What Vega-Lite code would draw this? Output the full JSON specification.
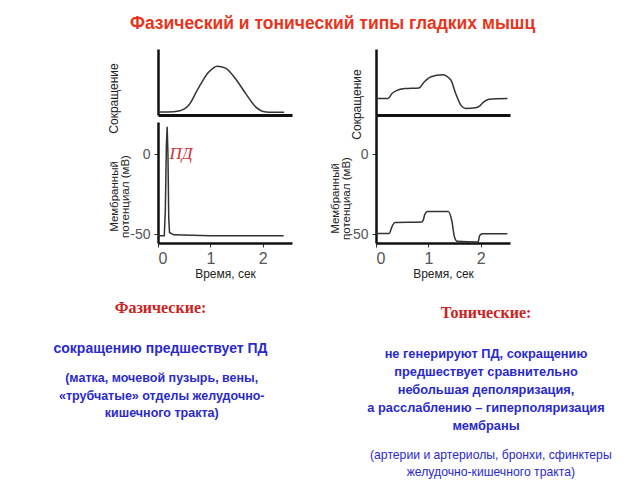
{
  "$schema": "https://vega.github.io/schema/vega-lite/v6.json",
  "padding": {"left": 53, "top": 15, "right": 5, "bottom": 2},
  "autosize": {"type": "pad"},
  "config": {
    "view": {"stroke": null},
    "font": "Liberation Sans",
    "axis": {"grid": false, "domainColor": "#111", "tickColor": "#333", "labelFont": "Liberation Sans", "titleFont": "Liberation Sans", "titleFontWeight": "normal", "titleColor": "#222", "labelColor": "#555"}
  },
  "title": {"text": "Фазический и тонический типы гладких мышц", "color": "#e8341c", "fontSize": 17.5, "font": "Liberation Sans", "fontWeight": "bold", "anchor": "middle", "offset": 16.5},
  "datasets": {
    "contrL": [
      {"t": 0, "v": 0.045}, {"t": 0.2, "v": 0.045}, {"t": 0.4, "v": 0.06}, {"t": 0.59, "v": 0.15},
      {"t": 0.78, "v": 0.42}, {"t": 0.97, "v": 0.65}, {"t": 1.13, "v": 0.74}, {"t": 1.29, "v": 0.71},
      {"t": 1.48, "v": 0.55}, {"t": 1.68, "v": 0.32}, {"t": 1.87, "v": 0.12}, {"t": 2.03, "v": 0.05},
      {"t": 2.2, "v": 0.04}, {"t": 2.41, "v": 0.04}
    ],
    "potL": [
      {"t": 0, "v": -51}, {"t": 0.12, "v": -51}, {"t": 0.14, "v": -35}, {"t": 0.16, "v": 5},
      {"t": 0.175, "v": 17}, {"t": 0.19, "v": 0}, {"t": 0.205, "v": -40}, {"t": 0.22, "v": -49},
      {"t": 0.3, "v": -50.5}, {"t": 1, "v": -51}, {"t": 2.4, "v": -51}
    ],
    "contrR": [
      {"t": 0, "v": 0.25}, {"t": 0.23, "v": 0.25}, {"t": 0.31, "v": 0.33}, {"t": 0.39, "v": 0.37},
      {"t": 0.55, "v": 0.40}, {"t": 0.82, "v": 0.41}, {"t": 0.92, "v": 0.50}, {"t": 1.05, "v": 0.58},
      {"t": 1.27, "v": 0.61}, {"t": 1.43, "v": 0.53}, {"t": 1.52, "v": 0.33}, {"t": 1.62, "v": 0.15},
      {"t": 1.71, "v": 0.10}, {"t": 1.9, "v": 0.11}, {"t": 1.97, "v": 0.13}, {"t": 2.06, "v": 0.20},
      {"t": 2.16, "v": 0.24}, {"t": 2.51, "v": 0.25}
    ],
    "potR": [
      {"t": 0, "v": -49.6}, {"t": 0.25, "v": -49.6}, {"t": 0.31, "v": -45}, {"t": 0.36, "v": -42.8},
      {"t": 0.87, "v": -42.5}, {"t": 0.9, "v": -41.5}, {"t": 0.93, "v": -38}, {"t": 0.98, "v": -35.9},
      {"t": 1.38, "v": -35.9}, {"t": 1.45, "v": -42}, {"t": 1.5, "v": -52}, {"t": 1.55, "v": -54.5},
      {"t": 1.95, "v": -55}, {"t": 1.98, "v": -51}, {"t": 2.03, "v": -49.8}, {"t": 2.51, "v": -49.8}
    ]
  },
  "spacing": 37,
  "hconcat": [
    {
      "spacing": 7,
      "bounds": "flush",
      "title": {"text": ["(матка, мочевой пузырь, вены,", "«трубчатые» отделы желудочно-", "кишечного тракта)"], "orient": "bottom", "anchor": "middle", "frame": "bounds", "font": "Liberation Sans", "fontSize": 12.5, "fontWeight": "bold", "color": "#2a2acc", "lineHeight": 17.5, "offset": 16, "dx": -11},
      "vconcat": [
        {
          "width": 134, "height": 66,
          "data": {"name": "contrL"},
          "mark": {"type": "line", "interpolate": "monotone", "color": "#333", "strokeWidth": 1.5},
          "encoding": {
            "x": {"field": "t", "type": "quantitative", "scale": {"domain": [0, 2.56], "nice": false}, "axis": {"title": null, "labels": false, "ticks": false, "domainWidth": 3}},
            "y": {"field": "v", "type": "quantitative", "scale": {"domain": [0, 1], "nice": false}, "axis": {"title": "Сокращение", "labels": false, "ticks": false, "domainWidth": 2.5, "titleX": -45, "titleY": 49, "titleAngle": -90, "titleBaseline": "middle", "titleAlign": "center", "titleFontSize": 12}}
          }
        },
        {
          "width": 134, "height": 121,
          "title": {"text": "Фазические:", "orient": "bottom", "anchor": "middle", "frame": "group", "font": "Liberation Serif", "fontWeight": "bold", "fontSize": 16, "color": "#cc2222", "offset": 21, "dx": -64.5,
            "subtitle": "сокращению предшествует ПД", "subtitleFont": "Liberation Sans", "subtitleFontSize": 14, "subtitleFontWeight": "bold", "subtitleColor": "#2a2acc", "subtitlePadding": 26},
          "layer": [
            {
              "data": {"name": "potL"},
              "mark": {"type": "line", "color": "#333", "strokeWidth": 1.5},
              "encoding": {
                "x": {"field": "t", "type": "quantitative", "scale": {"domain": [0, 2.56], "nice": false},
                  "axis": {"values": [0, 1, 2], "format": "d", "title": "Время, сек", "labelFontSize": 16, "tickSize": 4, "domainWidth": 2.5, "labelPadding": 3, "titleFontSize": 12, "titleY": 30, "titleBaseline": "middle"}},
                "y": {"field": "v", "type": "quantitative", "scale": {"domain": [-55.6, 20], "nice": false},
                  "axis": {"values": [0, -50], "labelExpr": "replace(datum.label, '−', '-')", "labelFontSize": 14, "tickSize": 4, "domainWidth": 2.5, "labelPadding": 4,
                    "title": ["Мембранный", "потенциал (мВ)"], "titleX": -44, "titleY": 74, "titleAngle": -90, "titleBaseline": "middle", "titleAlign": "center", "titleFontSize": 11.5, "titleLineHeight": 11}}
              }
            },
            {
              "data": {"values": [{}]},
              "mark": {"type": "text", "text": "ПД", "font": "Liberation Serif", "fontStyle": "italic", "fontSize": 17, "color": "#cc3333", "align": "left", "baseline": "middle"},
              "encoding": {"x": {"datum": 0.22, "type": "quantitative"}, "y": {"datum": 0, "type": "quantitative"}}
            }
          ]
        }
      ]
    },
    {
      "spacing": 0,
      "bounds": "flush",
      "title": {"text": ["(артерии и артериолы, бронхи, сфинктеры", "желудочно-кишечного тракта)"], "orient": "bottom", "anchor": "middle", "frame": "bounds", "font": "Liberation Sans", "fontSize": 12.2, "fontWeight": "normal", "color": "#2a2acc", "lineHeight": 17, "offset": 16, "dx": 24},
      "vconcat": [
        {
          "width": 134, "height": 66,
          "data": {"name": "contrR"},
          "mark": {"type": "line", "interpolate": "monotone", "color": "#333", "strokeWidth": 1.5},
          "encoding": {
            "x": {"field": "t", "type": "quantitative", "scale": {"domain": [0, 2.56], "nice": false}, "axis": {"title": null, "labels": false, "ticks": false, "domainWidth": 3}},
            "y": {"field": "v", "type": "quantitative", "scale": {"domain": [0, 1], "nice": false}, "axis": {"title": "Сокращение", "labels": false, "ticks": false, "domainWidth": 2.5, "titleX": -20, "titleY": 55, "titleAngle": -90, "titleBaseline": "middle", "titleAlign": "center", "titleFontSize": 12}}
          }
        },
        {
          "width": 134, "height": 128,
          "title": {"text": "Тонические:", "orient": "bottom", "anchor": "middle", "frame": "group", "font": "Liberation Serif", "fontWeight": "bold", "fontSize": 16, "color": "#cc2222", "offset": 26, "dx": 43,
            "subtitle": ["не генерируют ПД, сокращению", "предшествует сравнительно", "небольшая деполяризация,", "а расслаблению – гиперполяризация", "мембраны"], "subtitleFont": "Liberation Sans", "subtitleFontSize": 12.8, "subtitleFontWeight": "bold", "subtitleColor": "#2a2acc", "subtitlePadding": 27, "subtitleLineHeight": 18},
          "data": {"name": "potR"},
          "mark": {"type": "line", "interpolate": "monotone", "color": "#333", "strokeWidth": 1.5},
          "encoding": {
            "x": {"field": "t", "type": "quantitative", "scale": {"domain": [0, 2.56], "nice": false},
              "axis": {"values": [0, 1, 2], "format": "d", "title": "Время, сек", "labelFontSize": 16, "tickSize": 4, "domainWidth": 2.5, "labelPadding": 3, "titleFontSize": 12, "titleY": 30, "titleBaseline": "middle"}},
            "y": {"field": "v", "type": "quantitative", "scale": {"domain": [-55.6, 24.4], "nice": false},
              "axis": {"values": [0, -50], "labelExpr": "replace(datum.label, '−', '-')", "labelFontSize": 14, "tickSize": 4, "domainWidth": 2.5, "labelPadding": 4,
                "title": ["Мембранный", "потенциал (мВ)"], "titleX": -41, "titleY": 83, "titleAngle": -90, "titleBaseline": "middle", "titleAlign": "center", "titleFontSize": 11.5, "titleLineHeight": 11}}
          }
        }
      ]
    }
  ]
}
